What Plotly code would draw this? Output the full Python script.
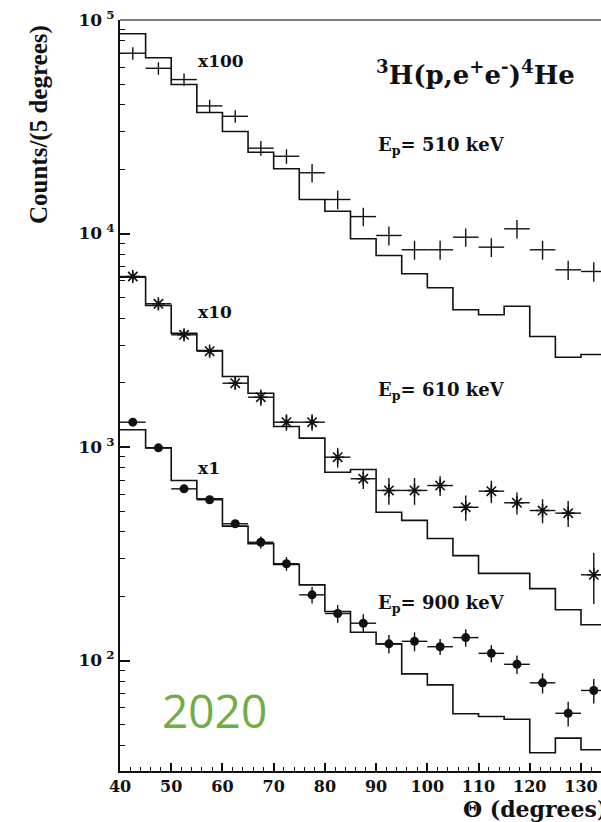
import plotly.graph_objects as go

# ---------------- data ----------------
bin_edges = [40, 45, 50, 55, 60, 65, 70, 75, 80, 85, 90, 95, 100, 105, 110, 115, 120, 125, 130, 135]
bin_centers = [42.5, 47.5, 52.5, 57.5, 62.5, 67.5, 72.5, 77.5, 82.5, 87.5, 92.5, 97.5,
               102.5, 107.5, 112.5, 117.5, 122.5, 127.5, 132.5]
half_width = [2.5] * 19

# Ep = 510 keV (x100)
data_510 = [69900, 59400, 52600, 39600, 35400, 25100, 23000, 19250, 14430, 12000,
            9790, 8390, 8390, 9610, 8630, 10520, 8390, 6760, 6640]
err_510 = [4700, 4000, 3500, 2700, 2400, 2000, 1800, 1900, 1450, 1200,
           1000, 850, 850, 950, 870, 1050, 850, 700, 700]
hist_510 = [86150, 66530, 49880, 36870, 30050, 24030, 20090, 14430, 12720, 9445,
            7890, 6475, 5568, 4392, 4160, 4565, 3293, 2634, 2713]

# Ep = 610 keV (x10)
data_610 = [6290, 4686, 3354, 2810, 1990, 1711, 1307, 1307, 896, 710,
            626, 626, 660, 522, 621, 548, 504, 490, 252]
err_610 = [280, 220, 170, 140, 130, 150, 115, 115, 95, 75,
           90, 90, 70, 70, 75, 65, 65, 68, 68]
hist_610 = [6243, 4600, 3412, 2831, 2139, 1786, 1247, 1100, 762, 785,
            495, 453, 373, 310, 256, 256, 217, 173, 147]

# Ep = 900 keV (x1)
data_900 = [1307, 991, 637, 566, 437, 358, 284, 203, 166, 149.5,
            119.7, 123, 116, 128, 108, 96, 78.6, 56.6, 72.4]
err_900 = [40, 30, 25, 22, 18, 23, 21, 18, 16, 15,
           12, 12.5, 10, 12, 10, 9.5, 8.5, 7.5, 9.5]
hist_900 = [1204, 991, 697, 572, 426, 352, 281.5, 226, 169.6, 135.7,
            119.7, 86.6, 76.9, 56.3, 54.7, 53.1, 37.0, 43.3, 38.2]

y_tickvals = [100, 1000, 10000, 100000]
y_ticktext = ["10<sup> 2</sup>", "10<sup> 3</sup>", "10<sup> 4</sup>", "10<sup> 5</sup>"]

# ---------------- layout geometry ----------------
W, H = 601, 822
L, R, T, B = 120, 0, 20, 51
PW, PH = W - L - R, H - T - B

def px(xp):
    return (xp - L) / PW

def py(yp):
    return (H - B - yp) / PH

SERIF = "DejaVu Serif"
INK = "#111"
fig = go.Figure()

def step_trace(hist):
    return go.Scatter(x=bin_edges, y=hist + [hist[-1]], mode="lines", line_shape="hv",
                      line=dict(color=INK, width=1.6), showlegend=False, hoverinfo="skip")

for h in (hist_510, hist_610, hist_900):
    fig.add_trace(step_trace(h))

def data_trace(vals, errs, marker):
    return go.Scatter(x=bin_centers, y=vals, mode="markers", marker=marker,
                      error_x=dict(type="data", array=half_width, width=0, color=INK, thickness=1.4),
                      error_y=dict(type="data", array=errs, width=0, color=INK, thickness=1.4),
                      showlegend=False)

fig.add_trace(data_trace(data_510, err_510, dict(size=1, color=INK)))
fig.add_trace(data_trace(data_610, err_610, dict(symbol="asterisk-open", size=11, color=INK,
                                                  line=dict(color=INK, width=1.6))))
fig.add_trace(data_trace(data_900, err_900, dict(symbol="circle", size=9, color=INK)))

tick_font = dict(family=SERIF, size=16, color=INK, weight="bold")

fig.update_xaxes(range=[40, 40 + PW / 5.122], showgrid=False, zeroline=False,
                 showline=True, linecolor=INK, linewidth=2,
                 ticks="inside", ticklen=8, tickwidth=1.5, tickcolor=INK,
                 tick0=40, dtick=10, tickfont=tick_font, ticklabelstandoff=0,
                 minor=dict(ticks="inside", ticklen=4, tickwidth=1.2, tickcolor=INK, dtick=2))

minor_vals = [m * 10 ** e for e in range(1, 5) for m in range(2, 10)]
fig.update_yaxes(type="log", range=[5 - PH / 213.5, 5], showgrid=False, zeroline=False,
                 showline=True, linecolor=INK, linewidth=2,
                 ticks="inside", ticklen=10, tickwidth=1.5, tickcolor=INK,
                 tickvals=y_tickvals, ticktext=y_ticktext,
                 tickfont=dict(family=SERIF, size=17, color=INK, weight="bold"),
                 minor=dict(ticks="inside", ticklen=5, tickwidth=1.2, tickcolor=INK, tickvals=minor_vals))

fig.add_shape(type="line", xref="paper", yref="paper", x0=0, x1=1, y0=1, y1=1,
              line=dict(color="#555", width=1.5))

def ann(text, x, y, size, xanchor="left", yanchor="middle", family=SERIF, color=INK,
        angle=0, bold=True):
    fig.add_annotation(text=text, xref="paper", yref="paper", x=px(x), y=py(y),
                       xanchor=xanchor, yanchor=yanchor, showarrow=False, textangle=angle,
                       font=dict(family=family, size=size, color=color,
                                 weight="bold" if bold else "normal"))

ann("Counts/(5 degrees)", 39, 125, 25, xanchor="center", family="Liberation Serif", angle=-90)
ann("x100", 196, 61, 17)
ann("x10", 196, 312, 17)
ann("x1", 196, 468, 17)
ann("<sup>3</sup>H(p,e<sup>+</sup>e<sup>-</sup>)<sup>4</sup>He", 374, 73, 26)
ann("E<sub>p</sub>= 510 keV", 376, 146, 18)
ann("E<sub>p</sub>= 610 keV", 376, 391, 18)
ann("E<sub>p</sub>= 900 keV", 376, 604, 18)
ann("Θ (degrees)", 461, 809, 22)
ann("2020", 214, 710, 46, xanchor="center", family="Open Sans", color="#70AD47", bold=False)

fig.update_layout(width=W, height=H, margin=dict(l=L, r=R, t=T, b=B, autoexpand=False),
                  plot_bgcolor="white", paper_bgcolor="white")

fig.write_html("out.html", config={"displayModeBar": False},
               post_script="document.body.style.margin='0';document.body.style.overflow='hidden';")
